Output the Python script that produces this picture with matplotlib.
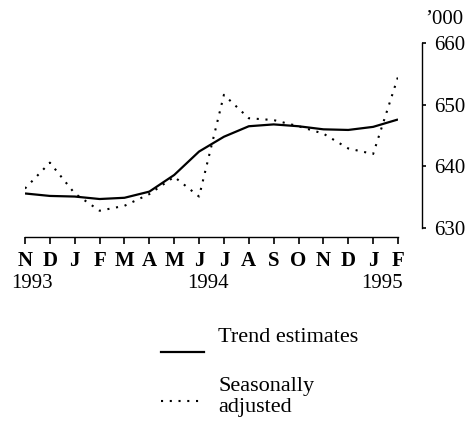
import matplotlib
matplotlib.use("Agg")
import matplotlib.pyplot as plt
import matplotlib.transforms as mtransforms

months = ["N", "D", "J", "F", "M", "A", "M", "J", "J", "A", "S", "O", "N", "D", "J", "F"]
years = ["1993", "1994", "1995"]
trend = [635.6, 635.2, 635.1, 634.7, 634.9, 635.9, 638.6, 642.4, 644.8, 646.5,
         646.8, 646.5, 646.0, 645.9, 646.4, 647.6]
seasonal = [636.4, 640.6, 635.6, 632.8, 633.6, 635.5, 638.3, 635.1, 651.6, 647.8,
            647.5, 646.5, 645.3, 642.9, 642.0, 654.5]
yticks = [630, 640, 650, 660]

plt.rcParams['font.family'] = ['Liberation Serif', 'DejaVu Serif']

W, H = 472, 423
fig = plt.figure(figsize=(W / 100, H / 100), dpi=100)
left, right = 25, 398
top, bottom = 43, 237
ax = fig.add_axes([left / W, 1 - bottom / H, (right - left) / W, (bottom - top) / H])

x = list(range(len(months)))
l1, = ax.plot(x, trend, color='black', lw=1.6, solid_capstyle='butt')
l2, = ax.plot(x, seasonal, color='black', lw=1.5, linestyle=(0, (1, 3.2)))

ppu = (228 - 43) / 30.0
ax.set_xlim(0, 15)
ax.set_ylim(630 - (237 - 228) / ppu, 660)

for s in ['top', 'left']:
    ax.spines[s].set_visible(False)
ax.spines['bottom'].set_bounds(0, 15)
ax.spines['right'].set_position(('outward', 24 * 0.72))
ax.spines['right'].set_bounds(630, 660)
for s in ['bottom', 'right']:
    ax.spines[s].set_linewidth(1.0)

ax.set_xticks(x)
ax.set_xticklabels(months, fontsize=15, fontweight='bold')
ax.tick_params(axis='x', direction='out', length=5, width=1.2, pad=5)
ax.yaxis.tick_right()
ax.set_yticks(yticks)
ax.set_yticklabels([str(v) for v in yticks], fontsize=15)
ax.tick_params(axis='y', direction='out', length=3, width=1.2, pad=6)

trans = mtransforms.blended_transform_factory(ax.transData, fig.transFigure)
ypos = 1 - 284 / H
ax.text(0.3, ypos, years[0], transform=trans, ha='center', va='center', fontsize=15)
ax.text(7.35, ypos, years[1], transform=trans, ha='center', va='center', fontsize=15)
ax.text(14.35, ypos, years[2], transform=trans, ha='center', va='center', fontsize=15)

fig.text(425 / W, 1 - 20 / H, "\u2019000", ha='left', va='center', fontsize=15)

# legend
fig.add_artist(plt.Line2D([161 / W, 204 / W], [1 - 352 / H, 1 - 352 / H], color='black', lw=1.6))
fig.add_artist(plt.Line2D([161 / W, 202 / W], [1 - 401 / H, 1 - 401 / H], color='black', lw=1.5,
                          linestyle=(0, (1, 3.2))))
fig.text(218 / W, 1 - 337 / H, "Trend estimates", ha='left', va='center', fontsize=16)
fig.text(218 / W, 1 - 397 / H, "Seasonally\nadjusted", ha='left', va='center', fontsize=16,
         linespacing=1.2)

fig.savefig("out.png", dpi=100)
